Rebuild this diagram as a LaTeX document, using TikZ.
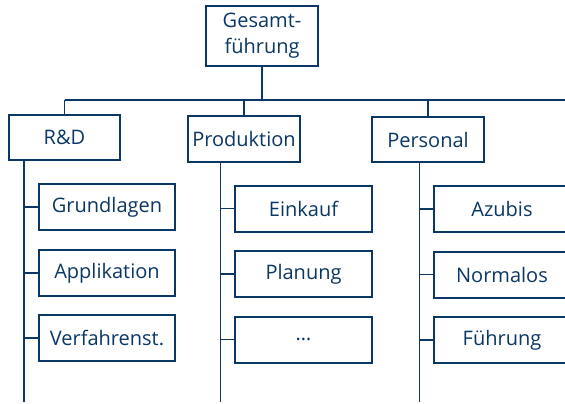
\documentclass[tikz,border=0pt]{standalone}
\usepackage{fontspec}
\setmainfont{Open Sans}
\definecolor{navy}{HTML}{0B3764}
\begin{document}
\begin{tikzpicture}[x=1pt,y=-1pt,
  box/.style={draw=navy,line width=2pt,text=navy,inner sep=0pt,align=center,font=\fontsize{20}{26}\selectfont},
  conn/.style={draw=navy,line width=1.3pt}]
\useasboundingbox (0,0) rectangle (565,404);
\begin{scope}
\clip (0,0) rectangle (565,404);
\node[box,minimum width=112pt,minimum height=60pt] (top) at (262,36) {Gesamt-\\führung};
\node[box,minimum width=111pt,minimum height=45pt] (rd) at (64.5,137.5) {R\&D};
\node[box,minimum width=112pt,minimum height=46pt] (prod) at (244,139) {Produktion};
\node[box,minimum width=112pt,minimum height=45pt] (pers) at (428,139.5) {Personal};
\foreach \n/\t/\y in {rd1/Grundlagen/207,rd2/Applikation/273,rd3/Verfahrenst./338}
  \node[box,minimum width=136pt,minimum height=46pt] (\n) at (107,\y) {\t};
\foreach \n/\t/\y in {pr1/Einkauf/208.5,pr2/Planung/274,pr3/\dots/339.5}
  \node[box,minimum width=137pt,minimum height=46pt] (\n) at (303.5,\y) {\t};
\foreach \n/\t/\y in {pe1/Azubis/209,pe2/Normalos/274.5,pe3/Führung/340}
  \node[box,minimum width=136pt,minimum height=46pt] (\n) at (502,\y) {\t};
\coordinate (busL) at (64.5,100);
\coordinate (busR) at (570,100);
\coordinate (rdE) at (24,402);
\coordinate (prE) at (220.5,402);
\coordinate (peE) at (419.5,402);
\draw[conn] (top.south) -- (top.south |- busL);
\draw[conn] (busL) -- (busR);
\draw[conn] (rd.north) -- (rd.north |- busL);
\draw[conn] (prod.north) -- (prod.north |- busL);
\draw[conn] (pers.north) -- (pers.north |- busL);
\draw[conn] (rdE |- rd.south) -- (rdE);
\draw[conn] (prE |- prod.south) -- (prE);
\draw[conn] (peE |- pers.south) -- (peE);
\foreach \n in {rd1,rd2,rd3} \draw[conn] (rdE |- \n.west) -- (\n.west);
\foreach \n in {pr1,pr2,pr3} \draw[conn] (prE |- \n.west) -- (\n.west);
\foreach \n in {pe1,pe2,pe3} \draw[conn] (peE |- \n.west) -- (\n.west);
\end{scope}
\end{tikzpicture}
\end{document}
